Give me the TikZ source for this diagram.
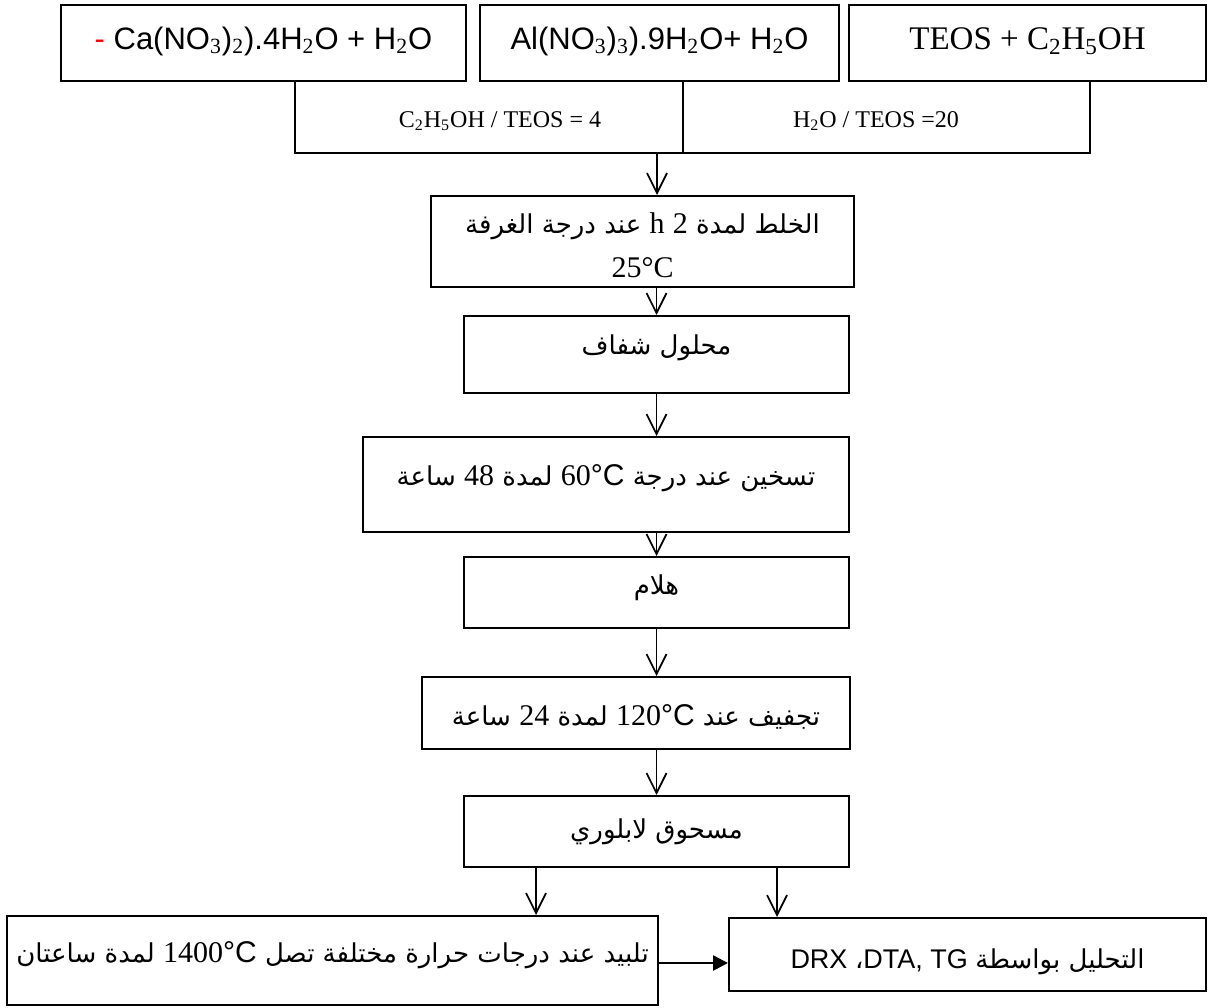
\documentclass[tikz,border=0pt]{standalone}
\usepackage{fontspec}
\setmainfont{Liberation Serif}
\newfontfamily\sansf{Liberation Sans}
\newfontfamily\arabicfont[Script=Arabic]{DejaVu Sans}
\TeXXeTstate=1
\usetikzlibrary{arrows.meta}
\newcommand{\sbs}[1]{\textsubscript{\rmfamily #1}}
\newcommand{\nm}[1]{{\rmfamily\fontsize{15}{18}\selectfont #1}}
\newcommand{\degc}{{\sansf\fontsize{15}{18}\selectfont °C}}
\newcommand{\shiftup}[2]{\raisebox{#1}[\height][\depth]{#2}}
\begin{document}
\begin{tikzpicture}[x=0.5pt,y=-0.5pt,
  box/.style 2 args={draw, line width=1pt, inner sep=0pt, align=center,
     minimum width=#1*0.5pt, minimum height=#2*0.5pt},
  artext/.style={font=\arabicfont\fontsize{13}{22}\selectfont},
  arr/.style={line width=0.85pt, -{Straight Barb[length=10pt,width=10pt,line width=0.85pt]}},
  tri/.style={line width=1.3pt, -{Triangle[length=7.5pt,width=7.5pt]}},
  brk/.style={line width=1.2pt}]
\useasboundingbox (0,0) rectangle (1208,1007);
% top row
\node[box={405}{76}, font=\sansf\fontsize{15.5}{18}\selectfont] (top1) at (263.5,43)
  {\shiftup{1pt}{{\color{red}-} Ca(NO\sbs{3})\sbs{2}).4H\sbs{2}O + H\sbs{2}O}};
\node[box={359}{76}, font=\sansf\fontsize{15.5}{18}\selectfont] (top2) at (659.5,43)
  {\shiftup{1pt}{Al(NO\sbs{3})\sbs{3}).9H\sbs{2}O+ H\sbs{2}O}};
\node[box={357}{76}, font=\fontsize{16.5}{20}\selectfont] (top3) at (1027.5,43)
  {\shiftup{1pt}{TEOS + C\textsubscript{2}H\textsubscript{5}OH}};
% bracket
\coordinate (b1) at (295,153);
\coordinate (b2) at (683,153);
\coordinate (b3) at (1090,153);
\coordinate (bm) at (657,153);
\draw[brk] (b1 |- top1.south) -- (b1) -- (b3) -- (b3 |- top3.south);
\draw[brk] (b2 |- top2.south) -- (b2);
\node[font=\fontsize{12}{14}\selectfont] (lab1) at (500,121)
  {C\textsubscript{2}H\textsubscript{5}OH / TEOS = 4};
\node[font=\fontsize{12}{14}\selectfont] (lab2) at (876,121)
  {H\textsubscript{2}O / TEOS =20};
% process boxes
\node[box={423}{91}, artext] (mix) at (642.5,241.5)
  {\shiftup{-2pt}{\beginR الخلط لمدة \nm{2} \nm{h} عند درجة الغرفة\endR}\\\shiftup{-2pt}{\nm{25°C}}};
\node[box={385}{77}, artext] (sol) at (656.5,354.5)
  {\shiftup{3.5pt}{\beginR محلول شفاف\endR}};
\node[box={486}{95}, artext] (heat) at (606,484.5)
  {\shiftup{3pt}{\beginR تسخين عند درجة \beginL\nm{60}\degc\endL{} لمدة \nm{48} ساعة\endR}};
\node[box={385}{71}, artext] (gel) at (656.5,592.5)
  {\shiftup{2.5pt}{\beginR هلام\endR}};
\node[box={428}{72}, artext] (dry) at (636,713)
  {\shiftup{-2pt}{\beginR تجفيف عند \beginL\nm{120}\degc\endL{} لمدة \nm{24} ساعة\endR}};
\node[box={385}{71}, artext] (powder) at (656.5,831.5)
  {\beginR مسحوق لابلوري\endR};
\node[box={651}{89}, artext] (sinter) at (332.5,960.5)
  {\shiftup{2.5pt}{\beginR تلبيد عند درجات حرارة مختلفة تصل \beginL\nm{1400}\degc\endL{} لمدة ساعتان\endR}};
\node[box={477}{73}, artext] (analysis) at (967.5,954.5)
  {\shiftup{-3.5pt}{{\sansf\fontsize{13.5}{16}\selectfont DRX }،{\sansf\fontsize{13.5}{16}\selectfont DTA, TG }\beginR التحليل بواسطة\endR}};
% arrows
\draw[arr] (bm) -- (bm |- mix.north);
\draw[arr] (sol.north |- mix.south) -- (sol.north);
\draw[arr] (sol.south) -- (sol.south |- heat.north);
\draw[arr] (gel.north |- heat.south) -- (gel.north);
\draw[arr] (gel.south) -- (gel.south |- dry.north);
\draw[arr] (powder.north |- dry.south) -- (powder.north);
\coordinate (pl) at (536,867);
\coordinate (pr) at (777,867);
\draw[arr] (pl) -- (pl |- sinter.north);
\draw[arr] (pr) -- (pr |- analysis.north);
\coordinate (h1) at (658,963);
\draw[tri] (h1) -- (h1 -| analysis.west);
\end{tikzpicture}
\end{document}
